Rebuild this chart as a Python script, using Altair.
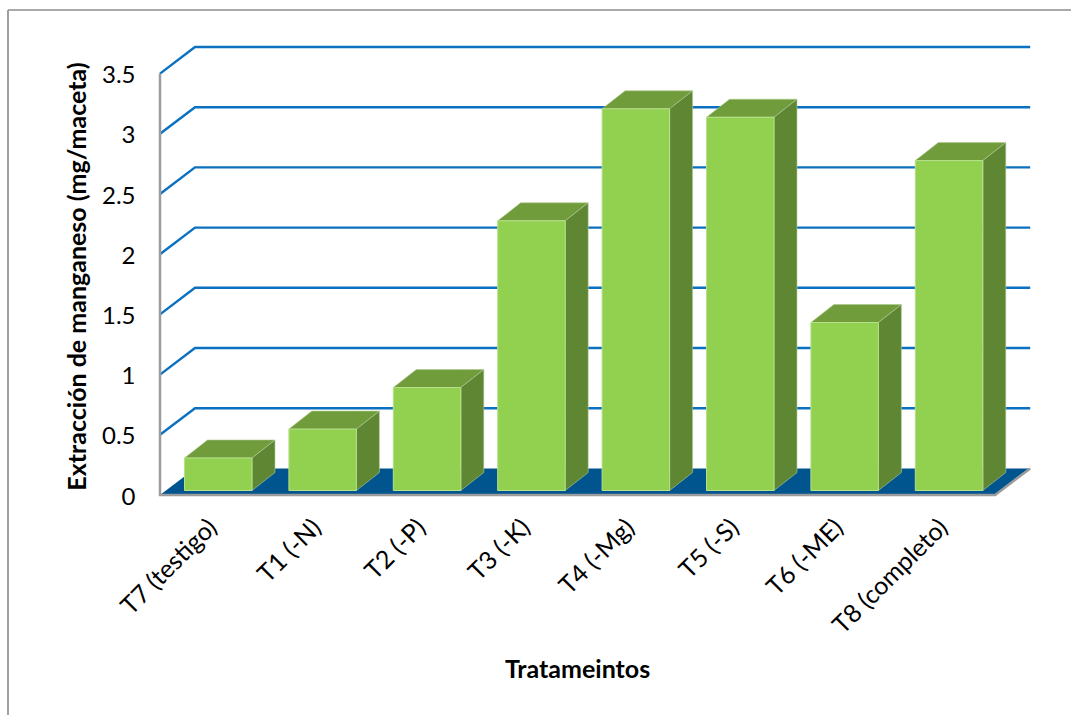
import altair as alt
import pandas as pd

# Treatments and manganese extraction per pot
treatments = ["T7 (testigo)", "T1 (-N)", "T2 (-P)", "T3 (-K)", "T4 (-Mg)", "T5 (-S)", "T6 (-ME)", "T8 (completo)"]
extraction = [0.27, 0.51, 0.855, 2.24, 3.17, 3.10, 1.395, 2.74]
grid_levels = [0.5, 1, 1.5, 2, 2.5, 3, 3.5]
y_ticks = [0, 0.5, 1, 1.5, 2, 2.5, 3, 3.5]

# Oblique projection, in data units per category and per mg/pot
PX_X, PX_Y = 104.4, 120.4
FLOOR_DX, FLOOR_DY = 35 / PX_X, 26.6 / PX_Y
BAR_DX, BAR_DY = 23 / PX_X, 18 / PX_Y
BAR_OFFSET, BAR_WIDTH = 24.5 / PX_X, 67.5 / PX_X
BAR_BASE = 4.5 / PX_Y
N = len(treatments)

W, H = 871, 448
x_scale = alt.Scale(domain=[0, W / PX_X], nice=False, zero=False)
y_scale = alt.Scale(domain=[0, H / PX_Y], nice=False, zero=False)

centres = [round(i + BAR_OFFSET + BAR_WIDTH / 2, 4) for i in range(N)]
label_map = "{" + ",".join(f"'{c}':'{n}'" for c, n in zip(centres, treatments)) + "}"

x_axis = alt.Axis(
    values=centres,
    labelExpr=f"{label_map}[toString(datum.value)]",
    labelAngle=-45, labelAlign="right", labelBaseline="middle",
    labelFont="Lato", labelFontSize=25, labelColor="#000000", labelPadding=28, labelOffset=-6,
    labelOverlap=False, labelFlush=False, labelBound=False,
    domain=False, ticks=False, grid=False,
    title="Tratameintos", titleFont="Lato", titleFontSize=25, titleFontWeight="bold",
    titleColor="#000000", titleX=417, titleY=162, titleAnchor="middle",
)
y_axis = alt.Axis(
    values=y_ticks, format="~g", labelFont="Lato", labelFontSize=24, labelColor="#000000",
    labelPadding=25, labelOffset=2,
    labelOverlap=False, labelFlush=False, labelBound=False,
    domain=False, ticks=False, grid=False,
    title="Extracción de manganeso (mg/maceta)", titleFont="Lato", titleFontSize=25,
    titleFontWeight="bold", titleColor="#000000", titleX=-70, titleY=229, titleAnchor="middle",
)
X = alt.X("x:Q", scale=x_scale, axis=x_axis)
Y = alt.Y("y:Q", scale=y_scale, axis=y_axis)

front, side, top = [], [], []
for i, (name, v) in enumerate(zip(treatments, extraction)):
    l, r = i + BAR_OFFSET, i + BAR_OFFSET + BAR_WIDTH
    t = BAR_BASE + v
    front.append({"x": l, "x2": r, "y": t, "y2": BAR_BASE})
    side += [
        {"k": name, "x": r, "y": t, "y2": BAR_BASE},
        {"k": name, "x": r + BAR_DX, "y": t + BAR_DY, "y2": BAR_BASE + BAR_DY},
    ]
    top += [
        {"k": name, "x": l, "y": t, "y2": t},
        {"k": name, "x": l + BAR_DX, "y": t + BAR_DY, "y2": t},
        {"k": name, "x": r, "y": t + BAR_DY, "y2": t},
        {"k": name, "x": r + BAR_DX, "y": t + BAR_DY, "y2": t + BAR_DY},
    ]

floor = pd.DataFrame([
    {"x": 0, "y": 0, "y2": 0},
    {"x": FLOOR_DX, "y": FLOOR_DY, "y2": 0},
    {"x": N, "y": FLOOR_DY, "y2": 0},
    {"x": N + FLOOR_DX, "y": FLOOR_DY, "y2": FLOOR_DY},
])

grid = pd.DataFrame([
    row for g in grid_levels for row in (
        {"k": g, "o": 0, "x": 0, "y": g},
        {"k": g, "o": 1, "x": FLOOR_DX, "y": g + FLOOR_DY},
        {"k": g, "o": 2, "x": N + FLOOR_DX, "y": g + FLOOR_DY},
    )
])

edge = pd.DataFrame([
    {"o": 0, "x": 0, "y": 3.5},
    {"o": 1, "x": 0, "y": 0},
    {"o": 2, "x": N, "y": 0},
    {"o": 3, "x": N + FLOOR_DX, "y": FLOOR_DY},
])

floor_layer = alt.Chart(floor).mark_area(color="#00558f", orient="vertical").encode(
    x=X, y=Y, y2="y2:Q")
grid_layer = alt.Chart(grid).mark_line(color="#0a70bf", strokeWidth=2.4).encode(
    x=X, y=Y, detail="k:N", order="o:Q")
edge_layer = alt.Chart(edge).mark_line(color="#9c9c9c", strokeWidth=2.5).encode(
    x=X, y=Y, order="o:Q")
top_layer = alt.Chart(pd.DataFrame(top)).mark_area(
    color="#719c3c", orient="vertical", stroke="#a9c98a", strokeWidth=0.6).encode(
    x=X, y=Y, y2="y2:Q", detail="k:N")
side_layer = alt.Chart(pd.DataFrame(side)).mark_area(
    color="#5f8632", orient="vertical", stroke="#b4cda0", strokeWidth=0.6).encode(
    x=X, y=Y, y2="y2:Q", detail="k:N")
front_layer = alt.Chart(pd.DataFrame(front)).mark_rect(
    color="#92d050", stroke="#b6e08a", strokeWidth=1).encode(
    x=X, x2="x2:Q", y=Y, y2="y2:Q")

# Chart frame along the top and left edges
frame_top = alt.Chart(pd.DataFrame({"k": [0]})).mark_rule(color="#8e8e8e", strokeWidth=1.5).encode(
    x=alt.value(-152), x2=alt.value(911), y=alt.value(-37))
frame_left = alt.Chart(pd.DataFrame({"k": [0]})).mark_rule(color="#a0a0a0", strokeWidth=2).encode(
    x=alt.value(-152), y=alt.value(-37), y2=alt.value(668))

chart = alt.layer(
    floor_layer, grid_layer, edge_layer, top_layer, side_layer, front_layer, frame_top, frame_left
).properties(
    width=W, height=H,
    padding={"left": 160, "top": 47, "right": 40, "bottom": 220},
    autosize=alt.AutoSizeParams(type="none"),
    background="#ffffff",
).configure_view(stroke=None)

chart.save("out.html", embed_options={"renderer": "svg", "actions": False})
